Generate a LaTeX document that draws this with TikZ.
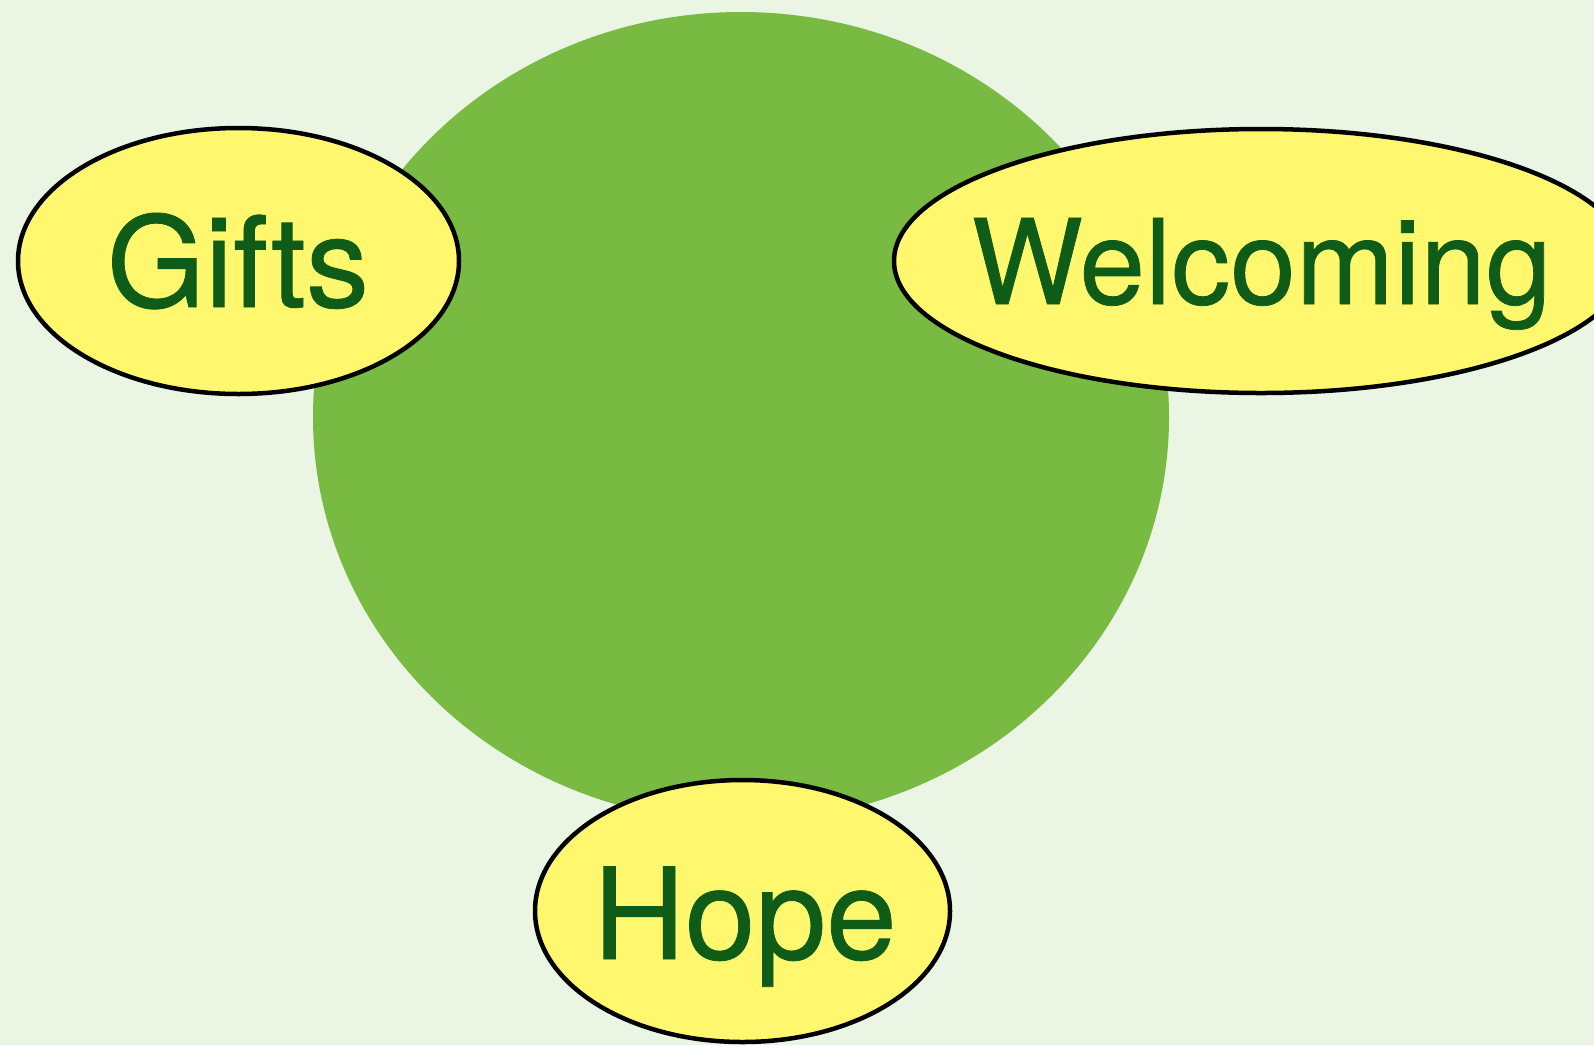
\documentclass[tikz,border=0pt]{standalone}
\usepackage{fontspec}
\setmainfont{TeX Gyre Heros}[FakeBold=0.6]
\usetikzlibrary{shapes.geometric}
\definecolor{bgc}{HTML}{EAF5E4}
\definecolor{bigc}{HTML}{78BA42}
\definecolor{yel}{HTML}{FFF76D}
\definecolor{txt}{HTML}{0E5C18}
\begin{document}
\begin{tikzpicture}[x=1pt,y=-1pt,
  oval/.style={ellipse, draw=black, line width=4.5pt, fill=yel, inner sep=0pt},
  word/.style={anchor=base, text=txt, inner sep=0pt}]
\useasboundingbox (0,0) rectangle (1594,1045);
\clip (0,0) rectangle (1594,1045);
\fill[bgc] (0,0) rectangle (1594,1045);
\node[ellipse, fill=bigc, inner sep=0pt, minimum width=856pt, minimum height=810pt] (big) at (741,417) {};
\node[oval, minimum width=441pt, minimum height=266pt] (gifts) at (238.5,261) {};
\node[oval, minimum width=734pt, minimum height=264pt] (welc) at (1261,261) {};
\node[oval, minimum width=415pt, minimum height=262pt] (hope) at (742.5,911) {};
\node[word, font=\fontsize{126}{126}\selectfont] (tg) at (238,307) {Gifts};
\node[word, font=\fontsize{118}{118}\selectfont] (tw) at (1261.5,304) {Welcoming};
\node[word, font=\fontsize{127}{127}\selectfont] (th) at (745,959) {Hope};
\end{tikzpicture}
\end{document}
